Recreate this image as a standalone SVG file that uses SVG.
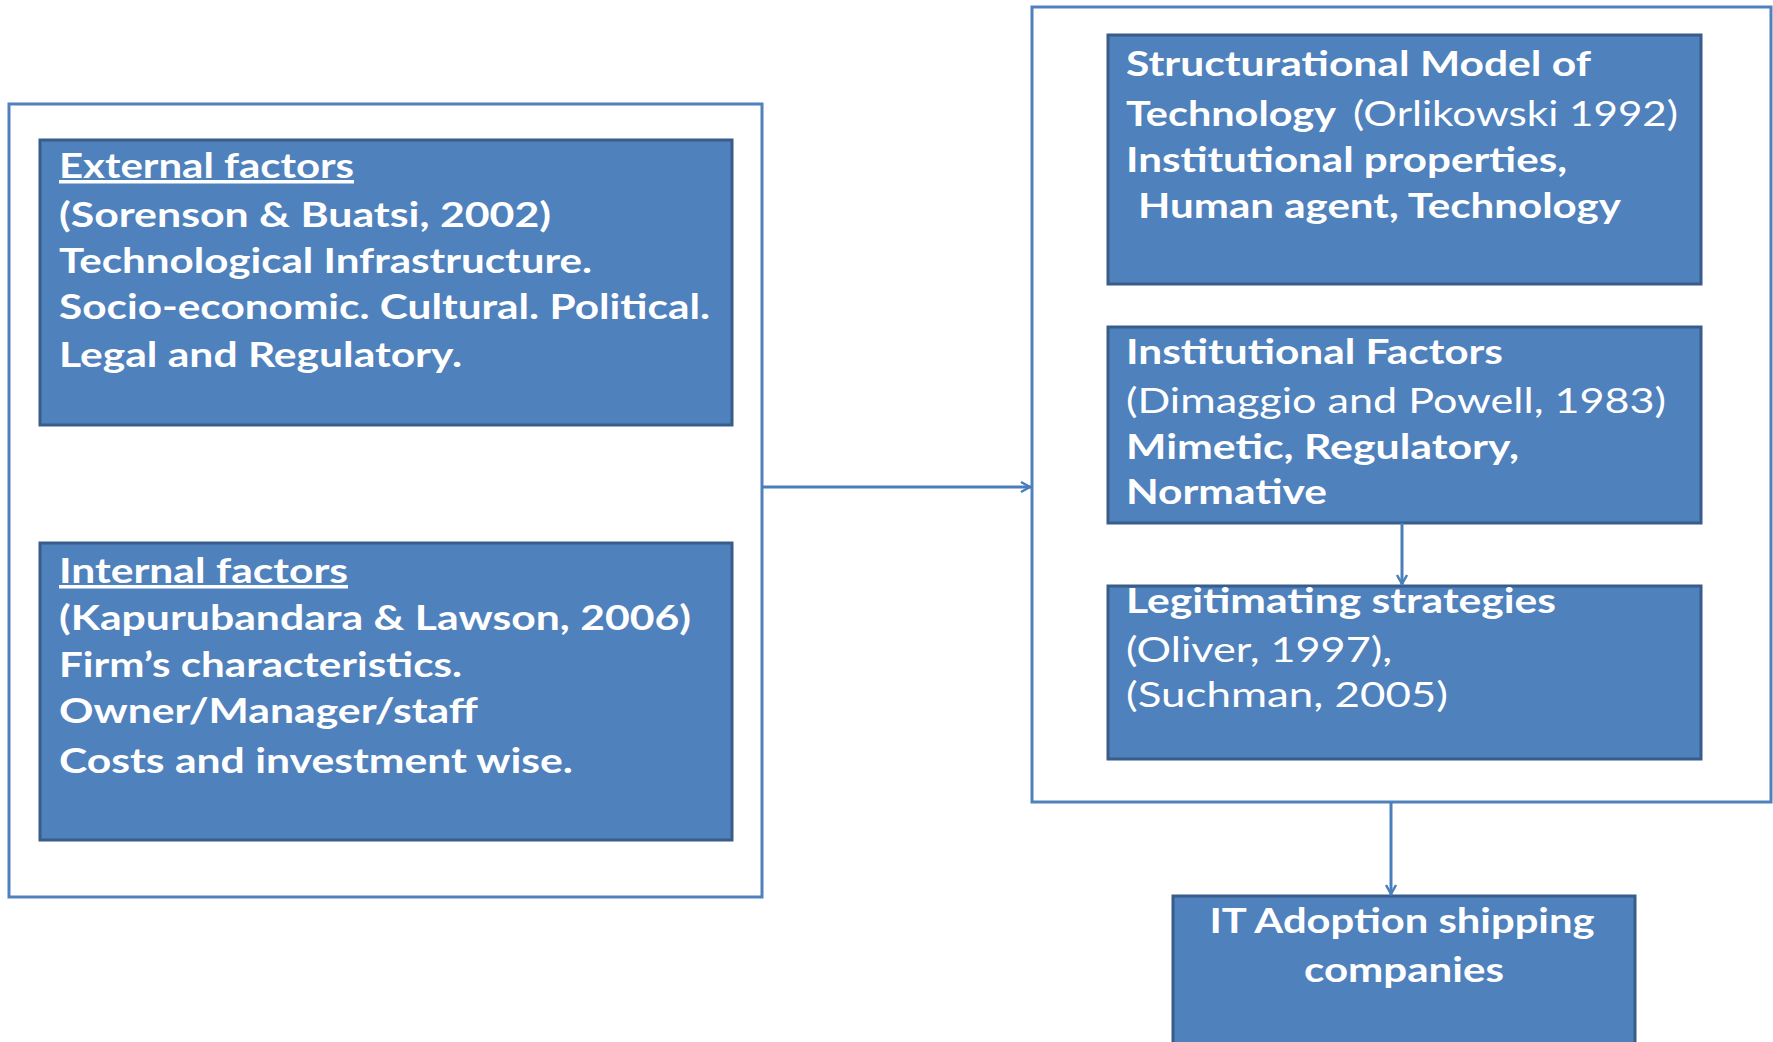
<svg xmlns="http://www.w3.org/2000/svg" width="1773" height="1042" viewBox="0 0 1773 1042">
<style>
.outer{fill:#fff;stroke:#4F81BD;stroke-width:3}
.node{fill:#4F81BD;stroke:#385D8A;stroke-width:3}
.t{font-family:Lato,"Liberation Sans",sans-serif;font-size:35px;fill:#fff;font-weight:700}
.r{font-weight:400}
.u{text-decoration:underline}
.c{fill:none;stroke:#4A7EBB;stroke-width:3}
</style>
<defs>
<marker id="arr" viewBox="0 0 14 14" refX="13" refY="7" markerWidth="14" markerHeight="14" markerUnits="userSpaceOnUse" orient="auto">
<path d="M3,2 L12,7 L3,12" fill="none" stroke="#4A7EBB" stroke-width="2.5"/>
</marker>
</defs>
<rect width="1773" height="1042" fill="#fff"/>
<g id="left-group">
<rect class="outer" x="9" y="104" width="753" height="793"/>
</g>
<g id="right-group">
<rect class="outer" x="1032" y="7" width="739" height="795"/>
</g>
<g id="external">
<rect class="node" x="40" y="140" width="692" height="285"/>
<text class="t u" x="59" y="178" textLength="295" lengthAdjust="spacingAndGlyphs">External factors</text>
<text class="t" x="59" y="227" textLength="492" lengthAdjust="spacingAndGlyphs">(Sorenson &amp; Buatsi, 2002)</text>
<text class="t" x="59" y="273" textLength="533" lengthAdjust="spacingAndGlyphs">Technological Infrastructure.</text>
<text class="t" x="59" y="319" textLength="651" lengthAdjust="spacingAndGlyphs">Socio-economic. Cultural. Political.</text>
<text class="t" x="59" y="367" textLength="403" lengthAdjust="spacingAndGlyphs">Legal and Regulatory.</text>
</g>
<g id="internal">
<rect class="node" x="40" y="543" width="692" height="297"/>
<text class="t u" x="59" y="583" textLength="289" lengthAdjust="spacingAndGlyphs">Internal factors</text>
<text class="t" x="59" y="630" textLength="632" lengthAdjust="spacingAndGlyphs">(Kapurubandara &amp; Lawson, 2006)</text>
<text class="t" x="59" y="677" textLength="403" lengthAdjust="spacingAndGlyphs">Firm’s characteristics.</text>
<text class="t" x="59" y="723" textLength="419" lengthAdjust="spacingAndGlyphs">Owner/Manager/staff</text>
<text class="t" x="59" y="773" textLength="514" lengthAdjust="spacingAndGlyphs">Costs and investment wise.</text>
</g>
<g id="structurational">
<rect class="node" x="1108" y="35" width="593" height="249"/>
<text class="t" x="1126" y="76" textLength="465" lengthAdjust="spacingAndGlyphs">Structurational Model of</text>
<text class="t" x="1126" y="126" textLength="210" lengthAdjust="spacingAndGlyphs">Technology</text>
<text class="t r" x="1353" y="126" textLength="325" lengthAdjust="spacingAndGlyphs">(Orlikowski 1992)</text>
<text class="t" x="1126" y="172" textLength="441" lengthAdjust="spacingAndGlyphs">Institutional properties,</text>
<text class="t" x="1138" y="218" textLength="483" lengthAdjust="spacingAndGlyphs">Human agent, Technology</text>
</g>
<g id="institutional">
<rect class="node" x="1108" y="327" width="593" height="196"/>
<text class="t" x="1126" y="364" textLength="377" lengthAdjust="spacingAndGlyphs">Institutional  Factors</text>
<text class="t r" x="1126" y="413" textLength="540" lengthAdjust="spacingAndGlyphs">(Dimaggio and Powell, 1983)</text>
<text class="t" x="1126" y="459" textLength="393" lengthAdjust="spacingAndGlyphs">Mimetic, Regulatory,</text>
<text class="t" x="1126" y="504" textLength="201" lengthAdjust="spacingAndGlyphs">Normative</text>
</g>
<g id="legitimating">
<rect class="node" x="1108" y="586" width="593" height="173"/>
<text class="t" x="1126" y="613" textLength="430" lengthAdjust="spacingAndGlyphs">Legitimating strategies</text>
<text class="t r" x="1126" y="662" textLength="266" lengthAdjust="spacingAndGlyphs">(Oliver, 1997),</text>
<text class="t r" x="1126" y="707" textLength="322" lengthAdjust="spacingAndGlyphs">(Suchman, 2005)</text>
</g>
<g id="it-adoption">
<rect class="node" x="1173" y="896" width="462" height="160"/>
<text class="t" x="1402" y="933" text-anchor="middle" textLength="385" lengthAdjust="spacingAndGlyphs">IT Adoption  shipping</text>
<text class="t" x="1404" y="982" text-anchor="middle" textLength="200" lengthAdjust="spacingAndGlyphs">companies</text>
</g>
<g id="connectors">
<line class="c" x1="762" y1="487" x2="1031" y2="487" marker-end="url(#arr)"/>
<line class="c" x1="1402" y1="523" x2="1402" y2="585" marker-end="url(#arr)"/>
<line class="c" x1="1391" y1="802" x2="1391" y2="895" marker-end="url(#arr)"/>
</g>
</svg>
